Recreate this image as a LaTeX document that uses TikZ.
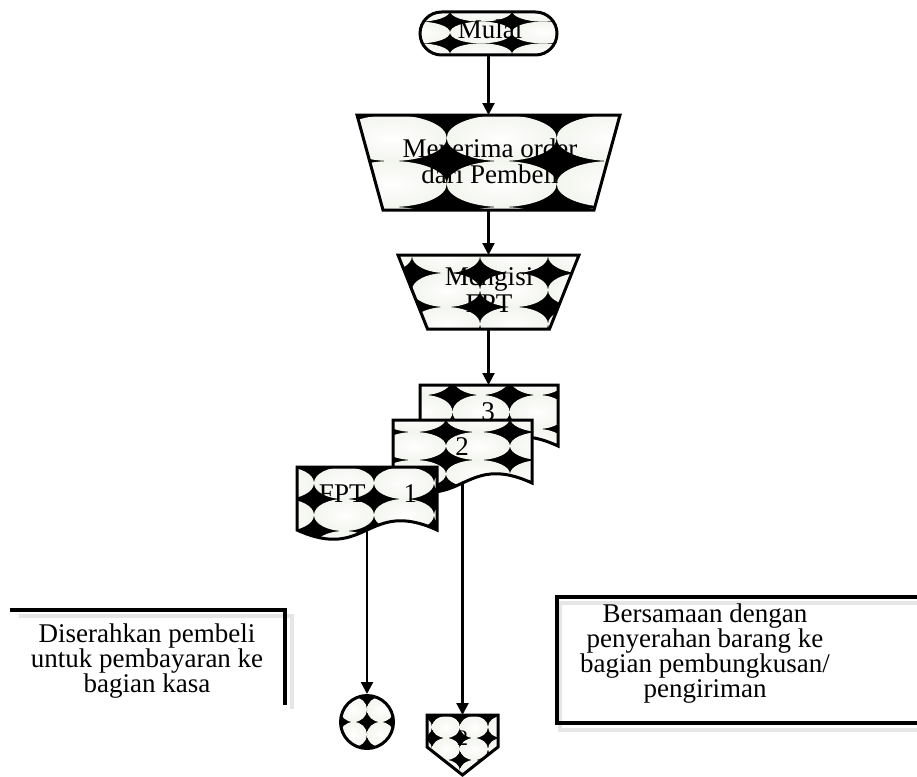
\documentclass[tikz,border=0pt]{standalone}
\usepackage{fontspec}
\setmainfont{Liberation Serif}
\usetikzlibrary{arrows.meta,calc}
\definecolor{patc}{RGB}{243,245,239}
\definecolor{shad}{RGB}{230,230,230}
\newcommand\patshape[5]{%
  \begin{scope}
    \clip #1;
    \fill[black] #1;
    \foreach \i in {-4,...,4}{\foreach \j in {-4,...,4}{%
      \shade[inner color=white, outer color=patc] ({#2+(\i)*(#4)},{#3+(\j)*(#5)}) ellipse [x radius={(#4)/2}, y radius={(#5)/2}];}}
  \end{scope}
  \draw[shapeline] #1;
}
\begin{document}
\begin{tikzpicture}[x=1pt,y=-1pt,
  shapeline/.style={draw=black,line width=3pt,line join=miter},
  anchorbox/.style={rectangle,inner sep=0pt,outer sep=0pt},
  txt/.style={anchor=base,inner sep=0pt,align=center,font=\fontsize{27pt}{25pt}\selectfont},
  small/.style={anchor=base,inner sep=0pt,font=\fontsize{22pt}{22pt}\selectfont},
  arr/.style={line width=2.2pt,-{Triangle[length=12pt,width=12pt]}},
  boxline/.style={draw=black,line width=3.5pt,line cap=rect},
  shadline/.style={draw=shad,line width=3.5pt}]
\useasboundingbox (0,0) rectangle (917,776);

% shapes with pattern
\patshape{[rounded corners=21.5pt] (420,12) rectangle (557,55)}{481}{32.5}{62}{21.7}
\patshape{(357,115) -- (620,115) -- (594,210) -- (383,210) -- cycle}{501.7}{138}{110}{46}
\patshape{(398,255) -- (579,255) -- (549.5,329) -- (427.5,329) -- cycle}{446}{290}{68}{34}
\patshape{(420,385) -- (558,385) -- (558,446) .. controls (489,414) and (489,478) .. (420,446) -- cycle}{481}{412}{57}{34}
\patshape{(393,420) -- (532,420) -- (532,483) .. controls (462.5,451) and (462.5,515) .. (393,483) -- cycle}{478}{446}{64}{28}
\patshape{(297,467) -- (437,467) -- (437,530) .. controls (367,498) and (367,562) .. (297,530) -- cycle}{344}{483}{60}{32}
\patshape{(367,722) circle [radius=26.5]}{353.5}{709.5}{27}{25}
\patshape{(427,715) -- (498,715) -- (498,747) -- (462.5,775) -- (427,747) -- cycle}{446}{727}{28}{22}

% anchor nodes of the shapes
\node[anchorbox,minimum width=137pt,minimum height=43pt] (mulai) at (488.5,33.5) {};
\node[anchorbox,minimum width=263pt,minimum height=95pt] (t1) at (488.5,162.5) {};
\node[anchorbox,minimum width=181pt,minimum height=74pt] (t2) at (488.5,292) {};
\node[anchorbox,minimum width=138pt,minimum height=61pt] (doc3) at (489,415.5) {};
\node[anchorbox,minimum width=139pt,minimum height=63pt] (doc2) at (462.5,451.5) {};
\node[anchorbox,minimum width=140pt,minimum height=63pt] (doc1) at (367,498.5) {};
\node[circle,inner sep=0pt,outer sep=0pt,minimum size=56pt] (conn) at (367,722) {};
\node[anchorbox,minimum width=71pt,minimum height=60pt] (off) at (462.5,745) {};

% texts (anchor base = baseline of the last line)
\node[txt] (mulaiT) at (490,38) {Mulai};
\node[txt,font=\fontsize{27pt}{26pt}\selectfont] (t1T) at (490,183) {Menerima order\\dari Pembeli};
\node[txt,font=\fontsize{27pt}{27pt}\selectfont] (t2T) at (489,312) {Mengisi\\FPT};
\node[txt] (d3) at (488,420) {3};
\node[txt] (d2) at (462,455) {2};
\node[txt] (d1) at (368,502) {FPT\hspace{38pt}1};
\node[small] (offT) at (462.5,745) {2};

% connectors
\draw[arr] (mulai.south) -- (mulai.south |- t1.north);
\draw[arr] (t1.south) -- (t1.south |- t2.north);
\draw[arr] (t2.south) -- (t2.south |- doc3.north);
\draw[arr] (doc1.south) -- (conn.north);
\draw[arr] (doc2.south) -- (off.north);

% annotation boxes
\draw[shadline] (19,616) -- (292,616) -- (292,709);
\draw[boxline] (12,610) -- (285,610) -- (285,703);
\node[txt] (leftT) at (147,692) {Diserahkan pembeli\\untuk pembayaran ke\\bagian kasa};

\draw[shadline] (925,603) -- (560,603) -- (560,730) -- (925,730);
\draw[boxline] (925,597) -- (557,597) -- (557,723) -- (925,723);
\node[txt] (rightT) at (705,697) {Bersamaan dengan\\penyerahan barang ke\\bagian pembungkusan/\\pengiriman};
\end{tikzpicture}
\end{document}
